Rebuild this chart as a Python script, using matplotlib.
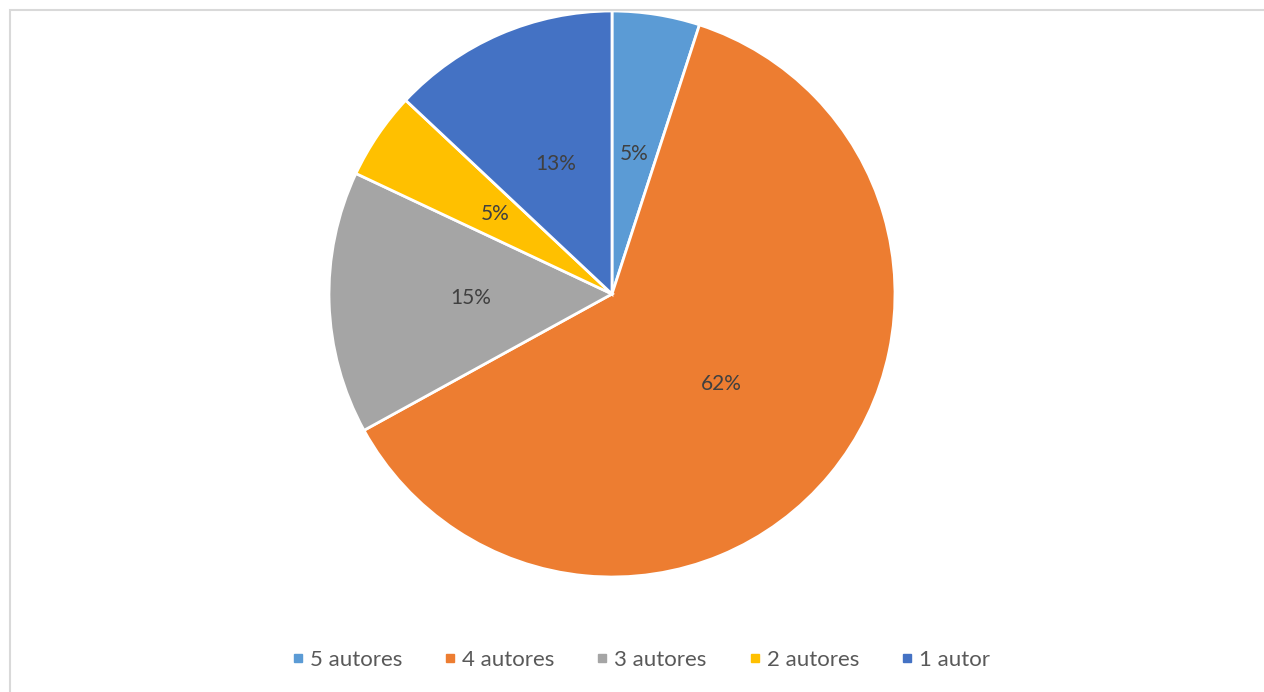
import matplotlib.pyplot as plt
from matplotlib.lines import Line2D
from matplotlib.patches import Rectangle

plt.rcParams['font.family'] = ['Lato', 'DejaVu Sans']

labels = ['5 autores', '4 autores', '3 autores', '2 autores', '1 autor']
values = [5, 62, 15, 5, 13]
colors = ['#5B9BD5', '#ED7D31', '#A5A5A5', '#FFC000', '#4472C4']

W, H = 1264, 692
fig = plt.figure(figsize=(W / 100, H / 100), dpi=100)

# marco gris del grafico
fig.patches.append(Rectangle((10 / W, -0.1), 1.2, 1 - 10 / H + 0.1, transform=fig.transFigure,
                             fill=False, edgecolor='#d9d9d9', linewidth=1.5))

cx, cy, r = 612, 294, 283
ax = fig.add_axes([(cx - r) / W, (H - cy - r) / H, 2 * r / W, 2 * r / H])
wedges, texts, autotexts = ax.pie(values, colors=colors, startangle=90, counterclock=False,
                                  autopct='%1.0f%%', pctdistance=0.5,
                                  wedgeprops=dict(edgecolor='white', linewidth=2))
for t in autotexts:
    t.set_color('#404040')
    t.set_fontsize(15)
ax.set_xlim(-1, 1)
ax.set_ylim(-1, 1)
ax.set_aspect('equal')

handles = [Line2D([], [], marker='s', linestyle='', markersize=6, color=c) for c in colors]
fig.legend(handles, labels, loc='center', bbox_to_anchor=(640 / W, 1 - 660 / H), ncol=5,
           frameon=False, fontsize=16, labelcolor='#595959', handletextpad=0.2,
           columnspacing=1.8, handlelength=0.7)

fig.savefig('out.png', dpi=100)
